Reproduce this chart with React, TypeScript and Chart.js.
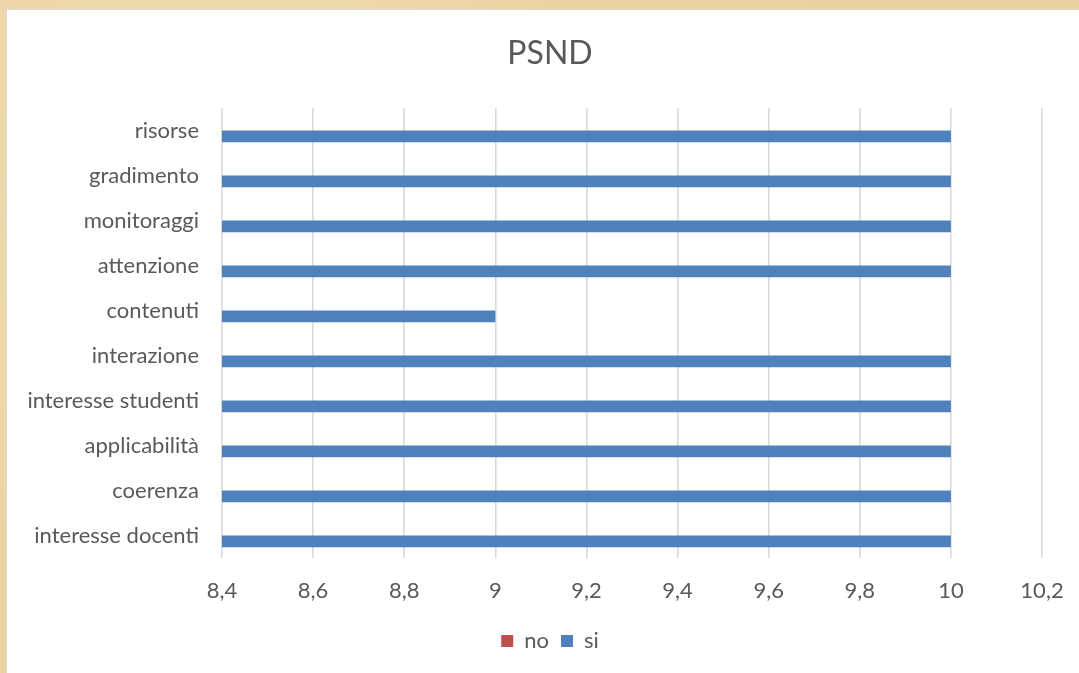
import React, { useEffect, useRef } from "react";
import { Chart, registerables } from "chart.js";

Chart.register(...registerables);

const categories = [
  "risorse",
  "gradimento",
  "monitoraggi",
  "attenzione",
  "contenuti",
  "interazione",
  "interesse studenti",
  "applicabilità",
  "coerenza",
  "interesse docenti",
];
const noValues = [0, 0, 0, 0, 0, 0, 0, 0, 0, 0];
const siValues = [10, 10, 10, 10, 9, 10, 10, 10, 10, 10];
const seriesNames = ["no", "si"];
const chartTitle = "PSND";
const axisMin = 8.4;
const axisMax = 10.2;
const axisStep = 0.2;

const FONT = "Lato, 'Open Sans', sans-serif";
const TEXT = "#595959";

export default function App() {
  const ref = useRef<HTMLCanvasElement | null>(null);

  useEffect(() => {
    document.body.style.margin = "0";
    const canvas = ref.current;
    if (!canvas) return;
    const chart = new Chart(canvas, {
      type: "bar",
      data: {
        labels: categories,
        datasets: [
          {
            label: seriesNames[0],
            data: noValues,
            backgroundColor: "#C0504D",
            borderWidth: 0,
            categoryPercentage: 0.52,
            barPercentage: 1,
          },
          {
            label: seriesNames[1],
            data: siValues,
            backgroundColor: "#4F81BD",
            borderWidth: 0,
            categoryPercentage: 0.52,
            barPercentage: 1,
          },
        ],
      },
      options: {
        indexAxis: "y",
        responsive: false,
        animation: false,
        maintainAspectRatio: false,
        layout: { padding: { top: 0, left: 14, right: 0, bottom: 11 } },
        scales: {
          x: {
            type: "linear",
            min: axisMin,
            max: axisMax,
            ticks: {
              stepSize: axisStep,
              color: TEXT,
              font: { family: FONT, size: 22 },
              padding: 20,
              callback: (v: any) =>
                String(Number(Number(v).toFixed(1))).replace(".", ","),
            },
            grid: { color: "#D9D9D9", lineWidth: 1.6, drawTicks: false },
            border: { display: false },
            afterFit: (s: any) => {
              s.height = 60;
              s.paddingRight = 37;
              s.paddingLeft = 0;
            },
          },
          y: {
            ticks: {
              color: TEXT,
              font: { family: FONT, size: 22 },
              padding: 23,
            },
            grid: { display: false, drawTicks: false },
            border: { display: false },
            afterFit: (s: any) => {
              s.width = 201;
            },
          },
        },
        plugins: {
          title: {
            display: true,
            text: chartTitle,
            color: TEXT,
            font: { family: FONT, size: 32, weight: "normal" },
            padding: { top: 24, bottom: 35.6 },
          },
          legend: {
            position: "bottom",
            labels: {
              color: TEXT,
              font: { family: FONT, size: 22 },
              boxWidth: 12,
              boxHeight: 12,
              padding: 12,
            },
          },
          tooltip: { enabled: false },
        },
      },
    });
    return () => chart.destroy();
  }, []);

  return (
    <div
      style={{
        position: "fixed",
        left: 0,
        top: 0,
        width: 1079,
        height: 673,
        background:
          "radial-gradient(circle at 20% 30%, #F2DFB8 0%, #EBD3A4 40%, #E9CF9E 100%)",
        overflow: "hidden",
      }}
    >
      <div
        style={{
          position: "absolute",
          left: 6,
          top: 9,
          width: 1073,
          height: 664,
          background: "#FFFFFF",
          borderTop: "1px solid #D9D9D9",
          borderLeft: "1px solid #D9D9D9",
          boxSizing: "border-box",
        }}
      >
        <canvas ref={ref} width={1072} height={663} style={{ display: "block" }} />
      </div>
    </div>
  );
}
